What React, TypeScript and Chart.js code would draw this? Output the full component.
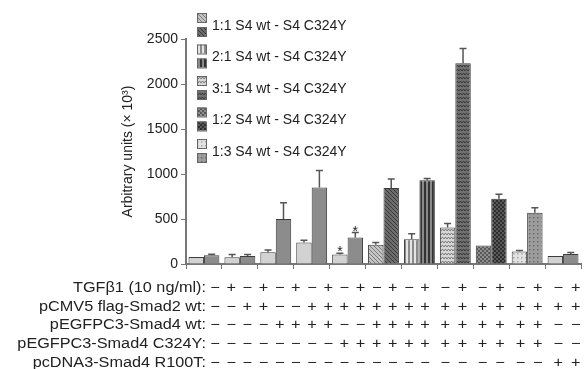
import React, { useEffect, useRef } from 'react';
import { Chart, registerables } from 'chart.js';
Chart.register(...registerables);

// ---------- data ----------
const groupNames = ['control', 'Smad2', 'Smad4 wt', 'Smad2 + Smad4 wt', 'Smad2 + C324Y', '1:1', '2:1', '3:1', '1:2', '1:3', 'R100T'];
const valuesMinus = [78, 75, 130, 240, 105, 215, 275, 405, 205, 140, 90];
const errMinus = [0, 30, 25, 25, 15, 25, 60, 45, 0, 10, 0];
const valuesPlus = [98, 88, 500, 850, 295, 845, 930, 2230, 725, 570, 112];
const errPlus = [10, 18, 180, 190, 55, 100, 20, 165, 50, 55, 15];
const starredGroups = [4];
const yTicks = [0, 500, 1000, 1500, 2000, 2500];
const yTitle = 'Arbitrary units (× 10³)';
const legendLabels = ['1:1 S4 wt - S4 C324Y', '2:1 S4 wt - S4 C324Y', '3:1 S4 wt - S4 C324Y', '1:2 S4 wt - S4 C324Y', '1:3 S4 wt - S4 C324Y'];
const legendGroups = [5, 6, 7, 8, 9];
const tableLabels = ['TGFβ1 (10 ng/ml):', 'pCMV5 flag-Smad2 wt:', 'pEGFPC3-Smad4 wt:', 'pEGFPC3-Smad4 C324Y:', 'pcDNA3-Smad4 R100T:'];
const tableRows = [
  '-+-+-+-+-+-+-+-+-+-+-+',
  '--++--++++++++++++++++',
  '----++++--++++++++++--',
  '--------++++++++++++--',
  '--------------------++',
];

// ---------- styles / layout ----------
const groupKinds = ['plain', 'plain', 'plain', 'plain', 'plain', 'diag', 'vert', 'zigzag', 'checker', 'dots', 'plain'];
const tableStartX = 215;      // first sign column
const tableUniformCols = 14;  // first columns spread evenly
const tableShift = [0, 0, 0, 0, 0, 0, -3, -1.5, 0, 2, 4];
const tableHalf = 8.7;
const kindColors: any = {
  plain: { light: ['#d2d2d2', null], dark: ['#8c8c8c', null] },
  diag: { light: ['#c4c4c4', '#7a7a7a'], dark: ['#6c6c6c', '#383838'] },
  vert: { light: ['#e4e4e4', '#8a8a8a'], dark: ['#8a8a8a', '#333333'] },
  zigzag: { light: ['#d6d6d6', '#7c7c7c'], dark: ['#707070', '#3c3c3c'] },
  checker: { light: ['#8e8e8e', '#5a5a5a'], dark: ['#5a5a5a', '#2e2e2e'] },
  dots: { light: ['#e2e2e2', '#a8a8a8'], dark: ['#9c9c9c', '#6a6a6a'] },
};
const FONT = '"Liberation Sans", Arial, Helvetica, sans-serif';

function makeFill(kind: string, bg: string, fg: string | null): any {
  if (!fg || kind === 'plain') return bg;
  const c = document.createElement('canvas');
  const w = kind === 'zigzag' ? 6 : 4;
  const h = 4;
  c.width = w; c.height = h;
  const x = c.getContext('2d') as CanvasRenderingContext2D;
  x.fillStyle = bg; x.fillRect(0, 0, w, h);
  x.strokeStyle = fg; x.fillStyle = fg; x.lineWidth = 1;
  if (kind === 'diag') {
    x.beginPath();
    x.moveTo(0, 0); x.lineTo(4, 4);
    x.moveTo(-1, 3); x.lineTo(1, 5);
    x.moveTo(3, -1); x.lineTo(5, 1);
    x.stroke();
  } else if (kind === 'vert') {
    x.fillRect(0, 0, 2, 4);
  } else if (kind === 'zigzag') {
    x.beginPath();
    x.moveTo(0, 3); x.lineTo(1.5, 1); x.lineTo(3, 3); x.lineTo(4.5, 1); x.lineTo(6, 3);
    x.stroke();
  } else if (kind === 'checker') {
    x.fillRect(0, 0, 2, 2); x.fillRect(2, 2, 2, 2);
  } else if (kind === 'dots') {
    x.fillRect(1, 1, 1.5, 1.5);
  }
  const ctx2 = document.createElement('canvas').getContext('2d') as CanvasRenderingContext2D;
  return ctx2.createPattern(c, 'repeat');
}

export default function App() {
  const ref = useRef<HTMLCanvasElement | null>(null);
  useEffect(() => {
    const canvas = ref.current;
    if (!canvas) return;
    const lightFills = groupKinds.map((k) => makeFill(k, kindColors[k].light[0], kindColors[k].light[1]));
    const darkFills = groupKinds.map((k) => makeFill(k, kindColors[k].dark[0], kindColors[k].dark[1]));
    const errs = [errMinus, errPlus];

    const overlay = {
      id: 'overlay',
      afterDatasetsDraw(chart: any) {
        const ctx = chart.ctx;
        const ys = chart.scales.y;
        ctx.save();
        ctx.strokeStyle = '#555';
        ctx.lineWidth = 1.5;
        [0, 1].forEach((di) => {
          const meta = chart.getDatasetMeta(di);
          meta.data.forEach((el: any, i: number) => {
            const v = chart.data.datasets[di].data[i];
            const e = errs[di][i];
            if (!e) return;
            const yTop = ys.getPixelForValue(v + e);
            ctx.beginPath();
            ctx.moveTo(el.x, el.y);
            ctx.lineTo(el.x, yTop);
            ctx.moveTo(el.x - 3.5, yTop);
            ctx.lineTo(el.x + 3.5, yTop);
            ctx.stroke();
          });
        });
        ctx.fillStyle = '#222';
        ctx.font = '14px ' + FONT;
        ctx.textAlign = 'center';
        ctx.textBaseline = 'alphabetic';
        starredGroups.forEach((g) => {
          [0, 1].forEach((di) => {
            const el = chart.getDatasetMeta(di).data[g];
            const v = chart.data.datasets[di].data[g] + errs[di][g];
            ctx.fillText('*', el.x, ys.getPixelForValue(v) + 3);
          });
        });
        ctx.restore();
      },
      afterDraw(chart: any) {
        const ctx = chart.ctx;
        ctx.save();
        // legend
        ctx.font = '14px ' + FONT;
        ctx.textBaseline = 'middle';
        ctx.textAlign = 'left';
        legendLabels.forEach((lab, i) => {
          const g = legendGroups[i];
          const yc = 25 + i * 31.5;
          const sx = 197;
          ctx.fillStyle = lightFills[g];
          ctx.fillRect(sx, yc - 12, 9, 9);
          ctx.strokeStyle = '#666'; ctx.lineWidth = 1;
          ctx.strokeRect(sx + 0.5, yc - 11.5, 9, 9);
          ctx.fillStyle = darkFills[g];
          ctx.fillRect(sx, yc + 2, 9, 9);
          ctx.strokeRect(sx + 0.5, yc + 2.5, 9, 9);
          ctx.fillStyle = '#222';
          ctx.fillText(lab, 212, yc + 1);
        });
        // table columns: bar-aligned pairs, first columns spread evenly from tableStartX
        const barCols: number[] = [];
        const m0 = chart.getDatasetMeta(0).data;
        const m1 = chart.getDatasetMeta(1).data;
        for (let g = 0; g < m0.length; g++) {
          const mid = (m0[g].x + m1[g].x) / 2 + tableShift[g];
          barCols.push(mid - tableHalf, mid + tableHalf);
        }
        const cols = barCols.slice();
        const endX = barCols[tableUniformCols - 1];
        for (let j = 0; j < tableUniformCols; j++) {
          cols[j] = tableStartX + (endX - tableStartX) * j / (tableUniformCols - 1);
        }
        const sx = 1.16;
        ctx.font = '14px ' + FONT;
        ctx.fillStyle = '#222';
        ctx.textBaseline = 'middle';
        tableLabels.forEach((lab, r) => {
          const y = 288 + r * 18.7;
          ctx.save();
          ctx.scale(sx, 1);
          ctx.textAlign = 'right';
          ctx.fillText(lab, 206 / sx, y);
          ctx.textAlign = 'center';
          const row = tableRows[r];
          for (let j = 0; j < row.length; j++) {
            ctx.fillText(row[j] === '+' ? '+' : '−', cols[j] / sx, y);
          }
          ctx.restore();
        });
        ctx.restore();
      },
    };

    const chart = new Chart(canvas, {
      type: 'bar',
      data: {
        labels: groupNames,
        datasets: [
          { data: valuesMinus, backgroundColor: lightFills, borderColor: '#3c3c3c', borderWidth: 1, categoryPercentage: 0.86, barPercentage: 1 },
          { data: valuesPlus, backgroundColor: darkFills, borderColor: '#3c3c3c', borderWidth: 1, categoryPercentage: 0.86, barPercentage: 1 },
        ],
      },
      options: {
        responsive: false,
        animation: false,
        devicePixelRatio: 1,
        layout: { padding: { left: 118, top: 39, right: 4, bottom: 0 } },
        plugins: { legend: { display: false }, tooltip: { enabled: false } },
        scales: {
          x: {
            grid: { offset: true, drawOnChartArea: false, drawTicks: true, tickLength: 5, color: '#777' },
            border: { color: '#777', width: 2 },
            ticks: { display: false },
            afterFit: (s: any) => { s.height = 105; },
          },
          y: {
            min: 0,
            max: 2500,
            afterBuildTicks: (s: any) => { s.ticks = yTicks.map((v) => ({ value: v })); },
            grid: { drawOnChartArea: false, drawTicks: true, tickLength: 5, color: '#777' },
            border: { color: '#777', width: 2 },
            ticks: { color: '#222', font: { family: FONT, size: 14 }, padding: 3, callback: (v: any) => String(v) },
            title: { display: true, text: yTitle, color: '#222', font: { family: FONT, size: 14 }, padding: 2 },
            afterFit: (s: any) => { s.width = 68; },
          },
        },
      },
      plugins: [overlay],
    });
    return () => chart.destroy();
  }, []);

  return (
    <div style={{ position: 'absolute', left: 0, top: 0, width: 585, height: 369, background: '#fff' }}>
      <canvas ref={ref} width={585} height={369} />
    </div>
  );
}
